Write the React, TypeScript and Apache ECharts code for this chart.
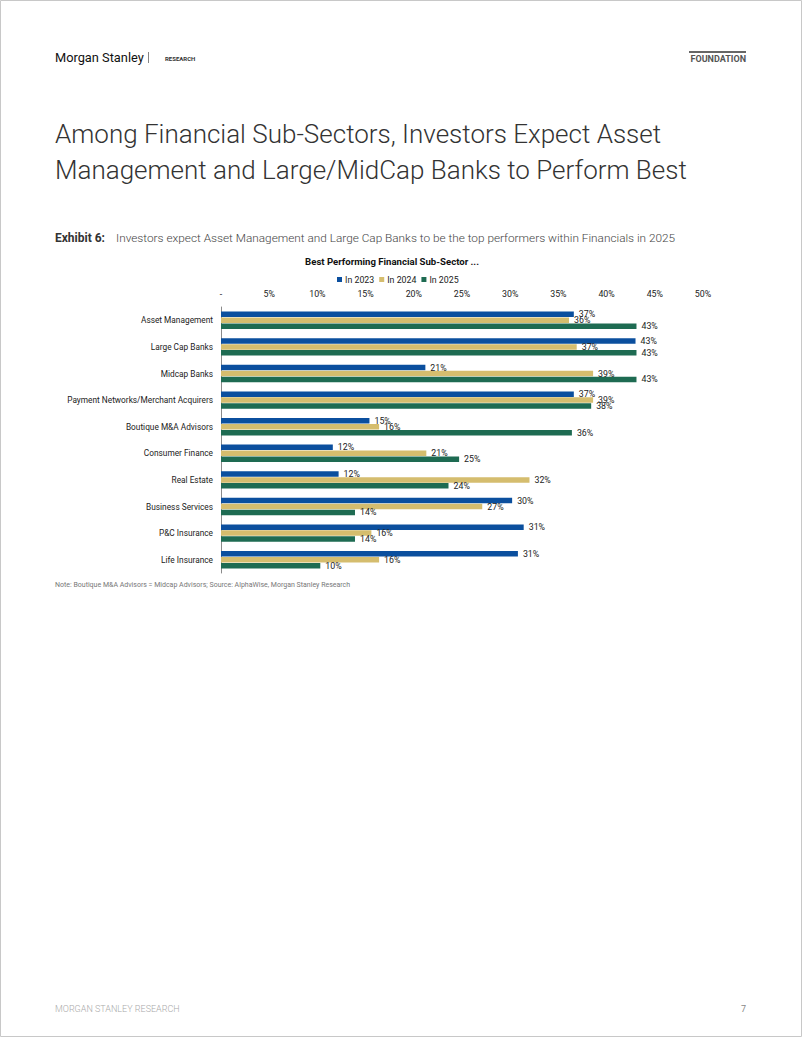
import React, { useEffect, useRef } from "react";
import * as echarts from "echarts";

const categories = [
  "Asset Management",
  "Large Cap Banks",
  "Midcap Banks",
  "Payment Networks/Merchant Acquirers",
  "Boutique M&A Advisors",
  "Consumer Finance",
  "Real Estate",
  "Business Services",
  "P&C Insurance",
  "Life Insurance",
];
const in2023 = [36.6, 43.0, 21.2, 36.6, 15.4, 11.6, 12.2, 30.2, 31.4, 30.8];
const in2024 = [36.1, 36.9, 38.6, 38.6, 16.4, 21.3, 32.0, 27.1, 15.6, 16.4];
const in2025 = [43.1, 43.1, 43.1, 38.4, 36.4, 24.7, 23.6, 13.9, 13.9, 10.3];
const seriesNames = ["In 2023", "In 2024", "In 2025"];
const colors = ["#0b4f9e", "#d5bd6e", "#1e6b52"];

const FONT = "Roboto, 'Liberation Sans', sans-serif";

export default function App() {
  const ref = useRef<HTMLDivElement>(null);
  useEffect(() => {
    document.body.style.margin = "0";
    const chart = echarts.init(ref.current!, null, { renderer: "svg" });
    const mkSeries = (name: string, data: number[], color: string) => ({
      name,
      type: "bar",
      data,
      barWidth: 5.5,
      barGap: "8%",
      itemStyle: { color },
      label: {
        show: true,
        position: "right",
        distance: 5,
        fontSize: 8.8,
        fontFamily: FONT,
        color: "#222",
        formatter: (p: any) => Math.round(p.value) + "%",
      },
    });
    chart.setOption({
      animation: false,
      textStyle: { fontFamily: FONT },
      title: {
        text: "Best Performing Financial Sub-Sector ...",
        left: 387,
        textAlign: "center",
        top: 251,
        textStyle: { fontSize: 9.6, fontWeight: "bold", color: "#111", fontFamily: FONT },
      },
      legend: {
        top: 270,
        left: 332,
        itemWidth: 5,
        itemHeight: 5,
        itemGap: 5,
        icon: "rect",
        textStyle: { fontSize: 8.8, color: "#222", fontFamily: FONT, padding: [0, 0, 0, -2] },
        data: seriesNames,
      },
      grid: { left: 221, right: 99, top: 307, bottom: 464, containLabel: false },
      xAxis: {
        type: "value",
        position: "top",
        min: 0,
        max: 50,
        interval: 5,
        axisLine: { show: false },
        axisTick: { show: false },
        splitLine: { show: false },
        axisLabel: {
          fontSize: 8.8,
          color: "#222",
          margin: 9,
          formatter: (v: number) => (v === 0 ? "-" : v + "%"),
        },
      },
      yAxis: {
        type: "category",
        inverse: true,
        data: categories,
        axisLine: { show: true, lineStyle: { color: "#8a8a8a", width: 1 } },
        axisTick: { show: false },
        axisLabel: { fontSize: 8.3, color: "#222", margin: 8 },
      },
      series: [
        mkSeries(seriesNames[0], in2023, colors[0]),
        mkSeries(seriesNames[1], in2024, colors[1]),
        mkSeries(seriesNames[2], in2025, colors[2]),
      ],
      graphic: [
        {
          type: "rect",
          shape: { x: 0.5, y: 0.5, width: 801, height: 1036 },
          style: { fill: "none", stroke: "#c8c8c8", lineWidth: 1 },
          silent: true,
        },
        {
          type: "text",
          x: 55,
          y: 51,
          style: { text: "Morgan Stanley", fontSize: 12.8, fontFamily: FONT, fill: "#111", fontWeight: 400 },
        },
        {
          type: "line",
          shape: { x1: 148.5, y1: 52, x2: 148.5, y2: 63 },
          style: { stroke: "#666", lineWidth: 0.8 },
        },
        {
          type: "text",
          x: 165,
          y: 55,
          style: { text: "RESEARCH", fontSize: 6, fontWeight: "bold", fontFamily: FONT, fill: "#333" },
        },
        {
          type: "rect",
          shape: { x: 689, y: 51, width: 57, height: 2 },
          style: { fill: "#666" },
        },
        {
          type: "text",
          x: 746,
          y: 54,
          style: { text: "FOUNDATION", fontSize: 9, fontWeight: "bold", fontFamily: FONT, fill: "#555", align: "right" },
        },
        {
          type: "text",
          x: 55,
          y: 116,
          style: {
            text: "Among Financial Sub-Sectors, Investors Expect Asset\nManagement and Large/MidCap Banks to Perform Best",
            fontSize: 26,
            lineHeight: 36,
            fontWeight: 300,
            fontFamily: FONT,
            fill: "#333",
          },
        },
        {
          type: "text",
          x: 55,
          y: 232,
          style: { text: "Exhibit 6:", fontSize: 12, fontWeight: "bold", fontFamily: FONT, fill: "#333" },
        },
        {
          type: "text",
          x: 116,
          y: 232,
          style: {
            text: "Investors expect Asset Management and Large Cap Banks to be the top performers within Financials in 2025",
            fontSize: 11.8,
            fontWeight: 300,
            fontFamily: FONT,
            fill: "#444",
          },
        },
        {
          type: "text",
          x: 55,
          y: 581,
          style: {
            text: "Note: Boutique M&A Advisors = Midcap Advisors; Source: AlphaWise, Morgan Stanley Research",
            fontSize: 7,
            fontFamily: FONT,
            fill: "#777",
          },
        },
        {
          type: "text",
          x: 55,
          y: 1004,
          style: { text: "MORGAN STANLEY RESEARCH", fontSize: 9, fontFamily: FONT, fill: "#aaa", fontWeight: 300 },
        },
        {
          type: "text",
          x: 746,
          y: 1004,
          style: { text: "7", fontSize: 9, fontFamily: FONT, fill: "#888", align: "right" },
        },
      ],
    });
    return () => chart.dispose();
  }, []);
  return (
    <div
      ref={ref}
      style={{ position: "absolute", left: 0, top: 0, width: 802, height: 1037, background: "#fff" }}
    />
  );
}
